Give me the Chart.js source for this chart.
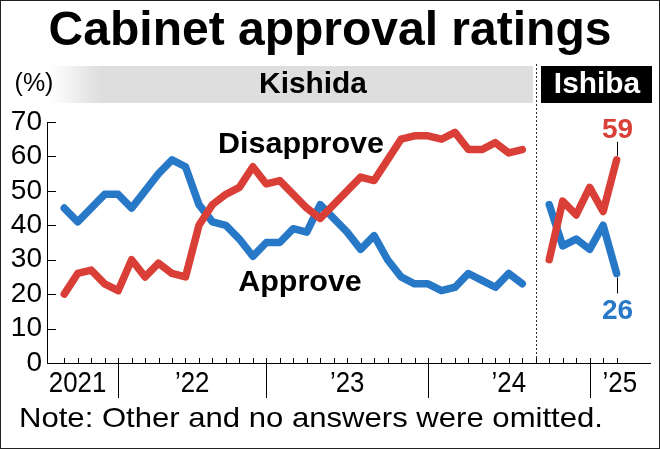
<!DOCTYPE html>
<html>
<head>
<meta charset="utf-8">
<script src="https://cdn.jsdelivr.net/npm/chart.js@4.4.1/dist/chart.umd.min.js"></script>
<style>
  html, body { margin: 0; padding: 0; background: #fff; }
  #wrap { width: 660px; height: 449px; }
</style>
</head>
<body>
<div id="wrap"><canvas id="lineChart" width="660" height="449"></canvas></div>
<script>
/* month index: 0 = Oct 2021 ... 41 = Mar 2025, 35 = gap between cabinets */
const months = [0,1,2,3,4,5,6,7,8,9,10,11,12,13,14,15,16,17,18,19,20,21,22,23,24,25,26,27,28,29,30,31,32,33,34,35,36,37,38,39,40,41];

const approve = [45,41,45,49,49,45,50,55,59,57,46,41,40,36,31,35,35,39,38,46,42,38,33,37,30,25,23,23,21,22,26,24,22,26,23,null,46,34,36,33,40,26];
const disapprove = [20,26,27,23,21,30,25,29,26,25,40,46,49,51,57,52,53,49,45,42,46,50,54,53,59,65,66,66,65,67,62,62,64,61,62,null,30,47,43,51,44,59];

const yTicks = [0,10,20,30,40,50,60,70];
const yearLabels = ["2021", "\u201922", "\u201923", "\u201924", "\u201925"];
const yearStarts = [4, 15, 27, 39];   // month index where a new year starts
const cabinetSplit = 35;

const RED = "#d93f36";
const BLUE = "#2878c8";
const FONT = "'Liberation Sans', Arial, sans-serif";

const xMin = -1.28, xMax = 43.48;

const toPoints = (vals) => months.map((m, i) => ({ x: m, y: vals[i] }));

/* draw text with an optional horizontal stretch */
const drawText = (ctx, text, x, y, font, color, align, sx) => {
    ctx.save();
    ctx.font = font;
    ctx.fillStyle = color;
    ctx.textAlign = align || "center";
    ctx.textBaseline = "middle";
    ctx.translate(x, y);
    ctx.scale(sx || 1, 1);
    ctx.fillText(text, 0, 0);
    ctx.restore();
}

const decorations = {
    id: "decorations",
    beforeDraw: (chart) => {
        const ctx = chart.ctx;
        ctx.save();
        ctx.fillStyle = "#fff";
        ctx.fillRect(0, 0, chart.width, chart.height);

        // title
        drawText(ctx, "Cabinet approval ratings", 330, 32, "bold 48px " + FONT, "#000", "center", 1.0);

        // Kishida band with a fade on the left
        let grad = ctx.createLinearGradient(50, 0, 100, 0);
        grad.addColorStop(0, "rgba(222,222,222,0)");
        grad.addColorStop(1, "rgba(222,222,222,1)");
        ctx.fillStyle = grad;
        ctx.fillRect(50, 66, 483, 37);
        drawText(ctx, "Kishida", 313, 85, "bold 29px " + FONT, "#000", "center", 1.03);

        // Ishiba band
        ctx.fillStyle = "#000";
        ctx.fillRect(541, 66, 111, 37);
        drawText(ctx, "Ishiba", 597, 85, "bold 29px " + FONT, "#fff", "center", 1.03);

        drawText(ctx, "(%)", 34, 84, "25px " + FONT, "#000", "center", 1.0);
        ctx.restore();
    },
    beforeDatasetsDraw: (chart) => {
        const ctx = chart.ctx;
        const xs = chart.scales.x;
        const ys = chart.scales.y;
        const bottom = chart.chartArea.bottom;
        ctx.save();

        // dotted separator between cabinets
        const sx = Math.round(xs.getPixelForValue(cabinetSplit)) + 0.5;
        ctx.strokeStyle = "#333";
        ctx.lineWidth = 1;
        ctx.setLineDash([2, 2]);
        ctx.beginPath();
        ctx.moveTo(sx, 64);
        ctx.lineTo(sx, bottom);
        ctx.stroke();
        ctx.setLineDash([]);

        // y ticks pointing inwards
        ctx.strokeStyle = "#000";
        yTicks.forEach(v => {
            if (v === 0) return;
            const y = Math.round(ys.getPixelForValue(v)) + 0.5;
            ctx.beginPath();
            ctx.moveTo(chart.chartArea.left, y);
            ctx.lineTo(chart.chartArea.left + 9, y);
            ctx.stroke();
        });

        // month ticks and year dividers
        months.forEach(m => {
            const x = Math.round(xs.getPixelForValue(m)) + 0.5;
            ctx.beginPath();
            if (yearStarts.includes(m)) {
                ctx.moveTo(x, bottom - 5);
                ctx.lineTo(x, bottom + 35);
            } else {
                ctx.moveTo(x, bottom - 5);
                ctx.lineTo(x, bottom);
            }
            ctx.stroke();
        });

        // year labels centred between dividers
        const edges = [xMin].concat(yearStarts).concat([xMax]);
        yearLabels.forEach((lab, i) => {
            const mid = (xs.getPixelForValue(edges[i]) + xs.getPixelForValue(edges[i + 1])) / 2;
            drawText(ctx, lab, i === 0 ? mid - 5 : mid, bottom + 21, "30px " + FONT, "#000", "center", 0.86);
        });

        drawText(ctx, "Note: Other and no answers were omitted.", 19, 419, "28px " + FONT, "#000", "left", 1.11);
        ctx.restore();
    },
    afterDatasetsDraw: (chart) => {
        const ctx = chart.ctx;
        const xs = chart.scales.x;
        const ys = chart.scales.y;
        ctx.save();
        drawText(ctx, "Disapprove", 301, 145, "bold 29px " + FONT, "#000", "center", 1.05);
        drawText(ctx, "Approve", 300, 283, "bold 29px " + FONT, "#000", "center", 1.05);

        // last values with leader lines
        const last = months.length - 1;
        const lx = Math.round(xs.getPixelForValue(months[last])) + 0.5;
        const ry = ys.getPixelForValue(disapprove[last]);
        const by = ys.getPixelForValue(approve[last]);
        ctx.strokeStyle = "#000";
        ctx.lineWidth = 1;
        ctx.beginPath();
        ctx.moveTo(lx, ry - 4);
        ctx.lineTo(lx, ry - 18);
        ctx.moveTo(lx, by + 4);
        ctx.lineTo(lx, by + 20);
        ctx.stroke();
        drawText(ctx, String(disapprove[last]), lx, ry - 30, "bold 28px " + FONT, RED, "center", 1.0);
        drawText(ctx, String(approve[last]), lx, by + 38, "bold 28px " + FONT, BLUE, "center", 1.0);

        // frame
        ctx.strokeStyle = "#222";
        ctx.strokeRect(0.5, 0.5, chart.width - 1, chart.height - 1);
        ctx.restore();
    }
};

const ctx = document.getElementById('lineChart').getContext('2d');

new Chart(ctx, {
    type: "line",
    data: {
        datasets: [{
            label: "Disapprove",
            data: toPoints(disapprove),
            borderColor: RED,
            borderWidth: 7.5,
            pointRadius: 0,
            borderCapStyle: "round",
            borderJoinStyle: "round",
            spanGaps: false,
            tension: 0
        }, {
            label: "Approve",
            data: toPoints(approve),
            borderColor: BLUE,
            borderWidth: 7.5,
            pointRadius: 0,
            borderCapStyle: "round",
            borderJoinStyle: "round",
            spanGaps: false,
            tension: 0
        }]
    },
    options: {
        responsive: false,
        animation: false,
        layout: { padding: { top: 122, right: 10, bottom: 86, left: 0 } },
        plugins: {
            legend: { display: false },
            tooltip: { enabled: false }
        },
        scales: {
            x: {
                type: "linear",
                min: xMin,
                max: xMax,
                grid: { display: false },
                border: { display: true, color: "#000", width: 1 },
                ticks: { display: false },
                afterFit: (scale) => { scale.height = 0; }
            },
            y: {
                min: 0,
                max: 70,
                afterBuildTicks: (scale) => { scale.ticks = yTicks.map(v => ({ value: v })); },
                grid: { display: false, drawTicks: false },
                border: { display: true, color: "#000", width: 1 },
                ticks: {
                    autoSkip: false,
                    padding: 5,
                    color: "#000",
                    font: { family: "'Liberation Sans', Arial, sans-serif", size: 28 }
                },
                afterFit: (scale) => { scale.width = 47; }
            }
        }
    },
    plugins: [decorations]
});
</script>
</body>
</html>
